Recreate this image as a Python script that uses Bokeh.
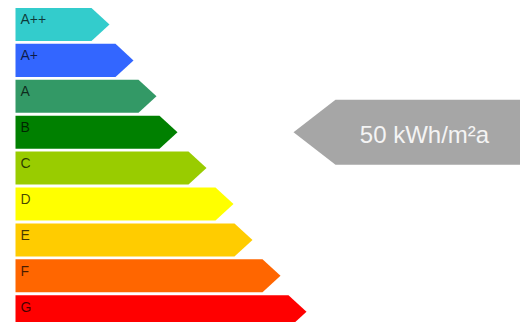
from bokeh.plotting import figure
from bokeh.models import ColumnDataSource, Range1d
from bokeh.core.properties import value
from bokeh.embed import file_html
from bokeh.resources import INLINE

# Energy efficiency classes, top (best) to bottom (worst)
classes = ["A++", "A+", "A", "B", "C", "D", "E", "F", "G"]
bar_lengths = [94, 118, 141, 162, 191, 218, 237, 265, 291]
class_colors = ["#33CCCC", "#3366FF", "#339966", "#008000", "#99CC00",
                "#FFFF00", "#FFCC00", "#FF6600", "#FF0000"]

# Rating of the building shown by the grey pointer
rating_class = "B"
rating_label = "50 kWh/m²a"

W, H = 520, 322
p = figure(width=W, height=H, output_backend="svg", toolbar_location=None,
           x_range=Range1d(0, W), y_range=Range1d(8.30, -0.668),
           min_border=0)
p.axis.visible = False
p.grid.visible = False
p.outline_line_color = None
p.background_fill_color = "white"

x0 = 15          # left edge of the class bars
half = 0.46      # half bar height in row units
tip = 18         # depth of the arrow point

xs, ys = [], []
for i, L in enumerate(bar_lengths):
    end = x0 + L
    xs.append([x0, end - tip, end, end - tip, x0])
    ys.append([i - half, i - half, i, i + half, i + half])

bars = ColumnDataSource(dict(xs=xs, ys=ys, color=class_colors))
p.patches("xs", "ys", source=bars, fill_color="color", line_color=None)

labels = ColumnDataSource(dict(x=[x0 + 5] * len(classes),
                               y=list(range(len(classes))), text=classes))
p.text("x", "y", text="text", source=labels, text_font=value("Liberation Sans"),
       text_font_size="14px", text_color="black", text_alpha=0.72,
       text_baseline="middle", text_align="left", y_offset=-5)

# Grey pointer with the building's value
r = classes.index(rating_class)
ph = 0.905
ptip, pbody = 293, 335
p.patch([ptip, pbody, W + 5, W + 5, pbody], [r, r - ph, r - ph, r + ph, r + ph],
        fill_color="#A6A6A6", line_color=None)
p.text([424], [r], text=[rating_label], text_font=value("Liberation Sans"),
       text_font_size="24px", text_color="#F4F4F4", text_align="center",
       text_baseline="middle", y_offset=2)

open("out.html", "w").write(file_html(p, INLINE))
